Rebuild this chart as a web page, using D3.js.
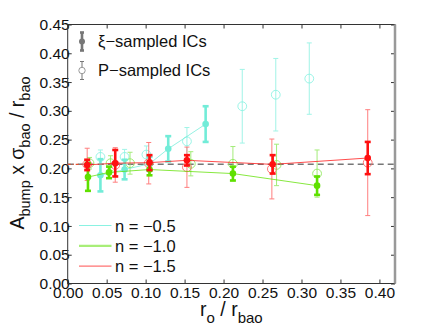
<!DOCTYPE html>
<html>
<head>
<meta charset="utf-8">
<script src="https://cdn.jsdelivr.net/npm/d3@7"></script>
<style>
  body { margin: 0; background: #fff; }
  svg { font-family: "Liberation Sans", Arial, sans-serif; }
</style>
</head>
<body>
<svg id="chart"></svg>
<script>
// n = -0.5 (cyan)
const xiR0_a = [0.042, 0.073, 0.105, 0.129, 0.177];
const xiA_a = [0.188, 0.198, 0.208, 0.234, 0.277];
const xiErr_a = [0.028, 0.017, 0.012, 0.022, 0.031];
const pR0_a = [0.042, 0.073, 0.101, 0.153, 0.224, 0.267, 0.310];
const pA_a = [0.220, 0.220, 0.224, 0.247, 0.308, 0.328, 0.356];
const pErr_a = [0.012, 0.013, 0.015, 0.024, 0.064, 0.063, 0.062];

// n = -1.0 (green)
const xiR0_b = [0.026, 0.053, 0.105, 0.212, 0.320];
const xiA_b = [0.185, 0.193, 0.198, 0.191, 0.170];
const xiErr_b = [0.024, 0.010, 0.010, 0.012, 0.016];
const pR0_b = [0.028, 0.055, 0.080, 0.158, 0.212, 0.268, 0.320];
const pA_b = [0.209, 0.209, 0.209, 0.208, 0.208, 0.206, 0.191];
const pErr_b = [0.010, 0.013, 0.019, 0.021, 0.030, 0.036, 0.041];

// n = -1.5 (red)
const xiR0_c = [0.025, 0.061, 0.105, 0.153, 0.263, 0.385];
const xiA_c = [0.206, 0.209, 0.210, 0.214, 0.207, 0.218];
const xiErr_c = [0.009, 0.023, 0.013, 0.009, 0.016, 0.028];
const pR0_c = [0.025, 0.061, 0.104, 0.153, 0.262, 0.385];
const pA_c = [0.207, 0.206, 0.209, 0.202, 0.199, 0.210];
const pErr_c = [0.028, 0.030, 0.036, 0.035, 0.052, 0.092];

const legendLabels = ["n = \u22120.5", "n = \u22121.0", "n = \u22121.5"];
const xTicks = [0, 0.05, 0.1, 0.15, 0.2, 0.25, 0.3, 0.35, 0.4];
const yTicks = [0, 0.05, 0.1, 0.15, 0.2, 0.25, 0.3, 0.35, 0.4, 0.45];
const refLevel = 0.207;

const W = 436, H = 328;
const margin = {top: 24.5, right: 41, bottom: 44.5, left: 67.7};
const width = W - margin.left - margin.right,
      height = H - margin.top - margin.bottom;

const svg = d3.select("#chart").attr("width", W).attr("height", H);
const g = svg.append("g").attr("transform", `translate(${margin.left},${margin.top})`);

const x = d3.scaleLinear().domain([0, 0.42]).range([0, width]);
const y = d3.scaleLinear().domain([0, 0.45]).range([height, 0]);

// axes (ticks inward on all sides)
const fmt = d3.format(".2f");
const bottomAx = g.append("g").attr("transform", `translate(0,${height})`)
  .call(d3.axisBottom(x).tickValues(xTicks).tickSize(-4).tickPadding(4).tickFormat(fmt));
const leftAx = g.append("g")
  .call(d3.axisLeft(y).tickValues(yTicks).tickSize(-4).tickPadding(3).tickFormat(fmt));
g.append("g").call(d3.axisTop(x).tickValues(xTicks).tickSize(-4).tickFormat(""));
g.append("g").attr("transform", `translate(${width},0)`)
  .call(d3.axisRight(y).tickValues(yTicks).tickSize(-4).tickFormat(""));
g.selectAll(".domain").remove();
g.selectAll(".tick line").attr("stroke", "#333");
[bottomAx, leftAx].forEach(a => a.selectAll("text").attr("font-size", 15.5).attr("fill", "#111")
  .attr("font-family", "Liberation Sans, Arial, sans-serif"));
leftAx.selectAll("text").attr("dx", 5).attr("dy", "0.33em");
bottomAx.selectAll("text").attr("dy", "0.7em");

g.append("rect").attr("width", width).attr("height", height)
  .attr("fill", "none").attr("stroke", "#333").attr("stroke-width", 1);
g.append("line").attr("x1", width).attr("x2", width).attr("y1", 0).attr("y2", height)
  .attr("stroke", "#999").attr("stroke-width", 2.5);

// reference dashed line
g.append("line").attr("x1", x(0)).attr("x2", x(0.42)).attr("y1", y(refLevel)).attr("y2", y(refLevel))
  .attr("stroke", "#777").attr("stroke-width", 1.5).attr("stroke-dasharray", "6,4");
g.append("line").attr("x1", x(0)).attr("x2", x(0.024)).attr("y1", y(refLevel)).attr("y2", y(refLevel))
  .attr("stroke", "#e85030").attr("stroke-width", 1.2).attr("stroke-dasharray", "3,2,1,2");

const series = [
  {c: "#72ecd8", cl: "#8af2e2", xr: xiR0_a, xa: xiA_a, xe: xiErr_a, pr: pR0_a, pa: pA_a, pe: pErr_a},
  {c: "#5fe000", cl: "#8ee85a", xr: xiR0_b, xa: xiA_b, xe: xiErr_b, pr: pR0_b, pa: pA_b, pe: pErr_b},
  {c: "#ff1010", cl: "#ff6060", xr: xiR0_c, xa: xiA_c, xe: xiErr_c, pr: pR0_c, pa: pA_c, pe: pErr_c}
];

function errBar(sel, cx, cy, e, color, sw, cap, op) {
  const gg = sel.append("g").attr("stroke", color).attr("stroke-width", sw).attr("opacity", op);
  gg.append("line").attr("x1", x(cx)).attr("x2", x(cx)).attr("y1", y(cy - e)).attr("y2", y(cy + e));
  [cy - e, cy + e].forEach(v => gg.append("line")
    .attr("x1", x(cx) - cap).attr("x2", x(cx) + cap).attr("y1", y(v)).attr("y2", y(v)));
}

// P-sampled (open, thin)
series.forEach(s => {
  s.pr.forEach((r, i) => {
    errBar(g, r, s.pa[i], s.pe[i], s.cl, 1, 2.5, 0.8);
    g.append("circle").attr("cx", x(r)).attr("cy", y(s.pa[i])).attr("r", 4.4)
      .attr("fill", "none").attr("stroke", s.cl).attr("stroke-width", 1).attr("opacity", 0.85);
  });
});

// xi-sampled (filled, thick, connected)
series.forEach(s => {
  const pts = s.xr.map((r, i) => [r, s.xa[i]]);
  g.append("path").datum(pts)
    .attr("d", d3.line().x(d => x(d[0])).y(d => y(d[1])))
    .attr("fill", "none").attr("stroke", s.c).attr("stroke-width", 1).attr("opacity", 0.75);
  s.xr.forEach((r, i) => {
    errBar(g, r, s.xa[i], s.xe[i], s.c, 2.6, 3, 1);
    g.append("circle").attr("cx", x(r)).attr("cy", y(s.xa[i])).attr("r", 3.3).attr("fill", s.c);
  });
});

// top-left legend
const lg = svg.append("g");
const gray = "#777";
function legErr(cx, cy, half, sw, cap) {
  lg.append("line").attr("x1", cx).attr("x2", cx).attr("y1", cy - half).attr("y2", cy + half)
    .attr("stroke", gray).attr("stroke-width", sw);
  [cy - half, cy + half].forEach(v => lg.append("line").attr("x1", cx - cap).attr("x2", cx + cap)
    .attr("y1", v).attr("y2", v).attr("stroke", gray).attr("stroke-width", sw));
}
legErr(82, 41.5, 9, 2.6, 2);
lg.append("circle").attr("cx", 82).attr("cy", 41.5).attr("r", 3).attr("fill", gray);
legErr(82, 70.5, 9, 1, 2);
lg.append("circle").attr("cx", 82).attr("cy", 70.5).attr("r", 3.2).attr("fill", "#fff").attr("stroke", "#999");
lg.append("text").attr("x", 98).attr("y", 47).attr("font-size", 16.5).attr("fill", "#111").text("\u03BE\u2212sampled ICs");
lg.append("text").attr("x", 98).attr("y", 76).attr("font-size", 16.5).attr("fill", "#111").text("P\u2212sampled ICs");

// bottom-left legend
const legColors = ["#8af2e2", "#a8ee78", "#ff5050"];
const legWidths = [1, 2.2, 1];
legendLabels.forEach((t, i) => {
  const ly = 225.5 + i * 20.3;
  svg.append("line").attr("x1", 79).attr("x2", 111.5).attr("y1", ly).attr("y2", ly)
    .attr("stroke", legColors[i]).attr("stroke-width", legWidths[i]);
  svg.append("text").attr("x", 115).attr("y", ly + 6).attr("font-size", 16.5).attr("fill", "#111").text(t);
});

// axis titles
const xt = svg.append("text").attr("x", margin.left + width / 2).attr("y", 316)
  .attr("text-anchor", "middle").attr("font-size", 19.5).attr("fill", "#111");
xt.append("tspan").text("r");
xt.append("tspan").attr("font-size", 15).attr("dy", 7).text("o");
xt.append("tspan").attr("dy", -7).text(" / r");
xt.append("tspan").attr("font-size", 15).attr("dy", 7).text("bao");

const yt = svg.append("text").attr("transform", `translate(24,${margin.top + height / 2 - 1}) rotate(-90)`)
  .attr("text-anchor", "middle").attr("font-size", 19.5).attr("fill", "#111");
yt.append("tspan").text("A");
yt.append("tspan").attr("font-size", 14.5).attr("dy", 6).text("bump");
yt.append("tspan").attr("dy", -6).text(" x \u03C3");
yt.append("tspan").attr("font-size", 14.5).attr("dy", 6).text("bao");
yt.append("tspan").attr("dy", -6).text(" / r");
yt.append("tspan").attr("font-size", 14.5).attr("dy", 6).text("bao");
</script>
</body>
</html>
